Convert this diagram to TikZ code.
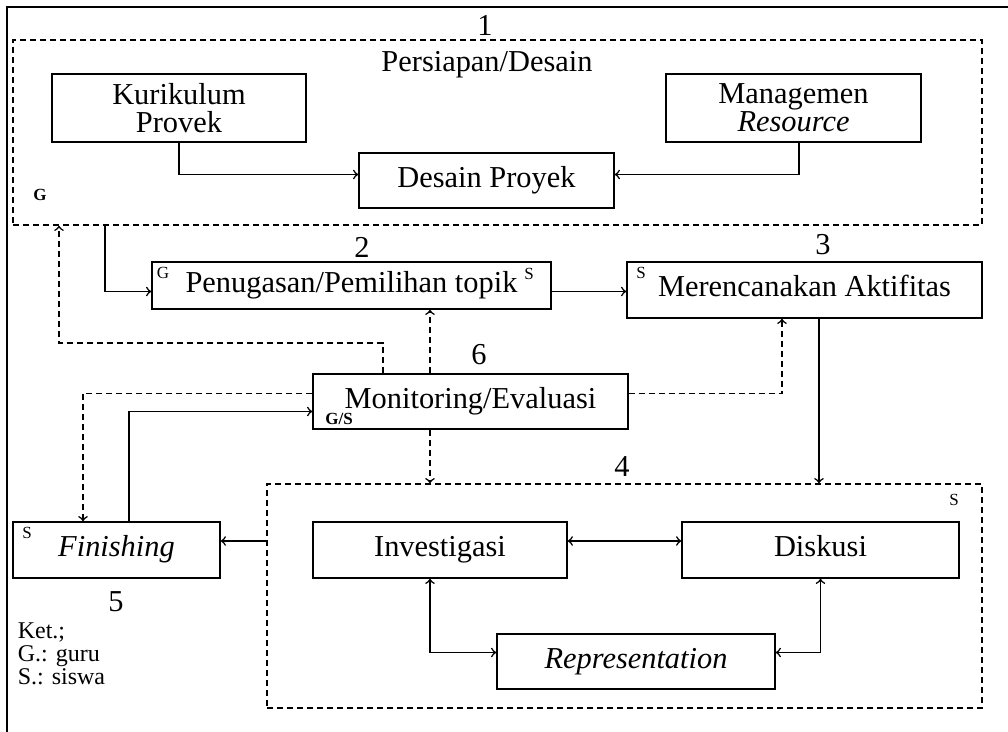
\documentclass[tikz,border=0pt]{standalone}
\usepackage{fontspec}
\setmainfont{Liberation Serif}
\begin{document}
\begin{tikzpicture}[x=0.5pt,y=-0.5pt,line width=0.8pt,
  every node/.style={font=\fontsize{15.2}{17}\selectfont},
  proc/.style={draw, rectangle, inner sep=0pt, align=center, execute at begin node=\strut},
  proc2/.style={draw, rectangle, inner sep=0pt, align=center, font=\fontsize{15.2}{14}\selectfont},
  stage/.style={draw, rectangle, inner sep=0pt, dash pattern=on 3pt off 2pt},
  fb/.style={dash pattern=on 3pt off 2pt},
  who/.style={font=\fontsize{8.5}{9}\selectfont\bfseries, inner sep=0pt}]
%%%%%%%%%%%%%%%%%%%%%%%%%%%%%%%%%%%%%%%%%%% HELP LINES
%\draw[help lines] (0,0) grid +(1008,732);
\useasboundingbox (0,0) rectangle (1008,732);
\draw[line width=1.2pt] (7,732) -- (7,7) -- (1008,7);

%%%%%%%%%%%%%%%%%%%%%%%%%%%%%%%%%%%%%%%%%%% stage 1
\node[stage, minimum width=484.5pt, minimum height=92.5pt] (persiapan) at (497.5,132.5){};
\node (n1) at (485,25){1};
\node (judul) at (487,65){Persiapan/Desain};
\node[proc2, minimum width=127pt, minimum height=34pt] (kurikulum) at (179,108){Kurikulum\\Provek};
\node[proc2, minimum width=127.5pt, minimum height=34pt] (managemen) at (793.5,108){Managemen\\\textit{Resource}};
\node[proc, minimum width=127.5pt, minimum height=27.5pt] (desain) at (486.5,180.5){Desain Proyek};
\node[who] (g1) at (40,195){G};
\draw[->] (kurikulum.south) |- ([yshift=3pt]desain.west);
\draw[->] (managemen.south -| 799,0) |- ([yshift=3pt]desain.east);

%%%%%%%%%%%%%%%%%%%%%%%%%%%%%%%%%%%%%%%%%%% stage 2, 3, 6
\node[proc, minimum width=199.5pt, minimum height=23.5pt] (penugasan) at (351.5,285.5){Penugasan/Pemilihan topik};
\node (n2) at (362,247){2};
\node[who, font=\fontsize{8.5}{9}\selectfont] (g2) at (163,273){G};
\node[who, font=\fontsize{8.5}{9}\selectfont] (s2) at (529,274){S};
\node[proc, minimum width=177.5pt, minimum height=28pt] (merencanakan) at (804.5,290){Merencanakan Aktifitas};
\node (n3) at (823,245){3};
\node[who, font=\fontsize{8.5}{9}\selectfont] (s3) at (641,273){S};
\node[proc, minimum width=157.5pt, minimum height=27.5pt] (monitoring) at (470.5,401.5){Monitoring/Evaluasi};
\node (n6) at (479,355){6};
\node[who] (gs) at (339,419){G/S};

\draw[->] (persiapan.south -| 105,0) |- ([yshift=-3pt]penugasan.west);
\draw[->] ([yshift=-3pt]penugasan.east) -- ([yshift=-3pt]penugasan.east -| merencanakan.west);

%%%%%%%%%%%%%%%%%%%%%%%%%%%%%%%%%%%%%%%%%%% stage 4, 5
\node[stage, minimum width=357.5pt, minimum height=112pt] (tahap4) at (624.5,596){};
\node (n4) at (622,466){4};
\node[who, font=\fontsize{8.5}{9}\selectfont] (s4) at (954,500){S};
\node[proc, minimum width=103.5pt, minimum height=28pt] (finishing) at (116.5,550){\textit{Finishing}};
\node[who, font=\fontsize{8.5}{9}\selectfont] (s5) at (27,533){S};
\node (n5) at (116,602){5};
\node[proc, minimum width=127pt, minimum height=28pt] (investigasi) at (440,550){Investigasi};
\node[proc, minimum width=138.5pt, minimum height=28pt] (diskusi) at (820.5,550){Diskusi};
\node[proc, minimum width=139pt, minimum height=27.5pt] (representation) at (636,661.5){\textit{Representation}};

\draw[->] (merencanakan.south -| 819,0) -- (tahap4.north -| 819,0);
\draw[->] (finishing.north -| 129,0) |- ([yshift=-5pt]monitoring.west);
\draw[->] (tahap4.west |- 0,541) -- (finishing.east |- 0,541);
\draw[<->] ([yshift=4.5pt]investigasi.east) -- ([yshift=4.5pt]diskusi.west);
\draw[<->] (investigasi.south -| 430,0) |- ([yshift=4.5pt]representation.west);
\draw[<->] (diskusi.south) |- ([yshift=4.5pt]representation.east);

%%%%% monitoring lines
\coordinate (fb1) at (59,343);
\draw[fb,->] (monitoring.north -| 383,0) |- (fb1) -- (fb1 |- persiapan.south);
\draw[fb,->] (monitoring.north -| 430,0) -- (penugasan.south -| 430,0);
\draw[fb,->] ([yshift=4pt]monitoring.east) -| (merencanakan.south -| 782,0);
\draw[fb,->] ([yshift=4pt]monitoring.west) -| (finishing.north -| 83,0);
\draw[fb,->] (monitoring.south -| 430,0) -- (tahap4.north -| 430,0);

%%%%% keterangan
\node[align=left, anchor=north west, inner sep=0pt, font=\fontsize{12}{11.5}\selectfont] (ket) at (17,622){Ket.;\\G.: guru\\S.: siswa};

\end{tikzpicture}
\end{document}
